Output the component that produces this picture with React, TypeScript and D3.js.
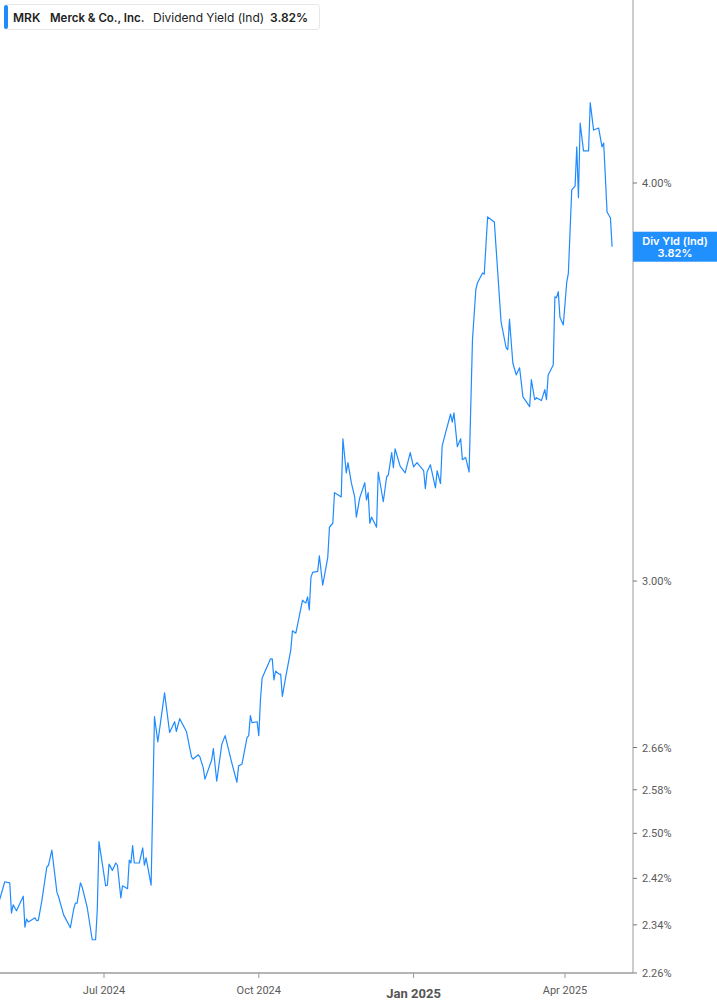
import React from "react";
import * as d3 from "d3";

const dates = [
  "2024-04-30", "2024-05-03", "2024-05-06", "2024-05-07", "2024-05-08", "2024-05-10", "2024-05-14", "2024-05-15",
  "2024-05-16", "2024-05-17", "2024-05-21", "2024-05-22", "2024-05-23", "2024-05-25", "2024-05-28", "2024-05-29",
  "2024-05-31", "2024-06-03", "2024-06-04", "2024-06-07", "2024-06-11", "2024-06-13", "2024-06-14", "2024-06-15",
  "2024-06-17", "2024-06-18", "2024-06-21", "2024-06-24", "2024-06-26", "2024-06-27", "2024-06-28", "2024-07-02",
  "2024-07-03", "2024-07-04", "2024-07-06", "2024-07-08", "2024-07-09", "2024-07-11", "2024-07-12", "2024-07-15",
  "2024-07-16", "2024-07-17", "2024-07-18", "2024-07-19", "2024-07-22", "2024-07-24", "2024-07-25", "2024-07-26",
  "2024-07-29", "2024-07-31", "2024-08-02", "2024-08-06", "2024-08-09", "2024-08-12", "2024-08-13", "2024-08-15",
  "2024-08-19", "2024-08-22", "2024-08-23", "2024-08-26", "2024-08-27", "2024-08-29", "2024-08-30", "2024-09-03",
  "2024-09-04", "2024-09-06", "2024-09-09", "2024-09-11", "2024-09-15", "2024-09-18", "2024-09-19", "2024-09-21",
  "2024-09-24", "2024-09-25", "2024-09-26", "2024-09-27", "2024-09-30", "2024-10-01", "2024-10-02", "2024-10-03",
  "2024-10-08", "2024-10-09", "2024-10-10", "2024-10-11", "2024-10-13", "2024-10-14", "2024-10-15", "2024-10-17",
  "2024-10-20", "2024-10-21", "2024-10-23", "2024-10-24", "2024-10-27", "2024-10-28", "2024-10-29", "2024-10-30",
  "2024-10-31", "2024-11-01", "2024-11-02", "2024-11-05", "2024-11-06", "2024-11-08", "2024-11-11", "2024-11-12",
  "2024-11-14", "2024-11-15", "2024-11-17", "2024-11-19", "2024-11-20", "2024-11-22", "2024-11-23", "2024-11-25",
  "2024-11-27", "2024-11-28", "2024-11-30", "2024-12-03", "2024-12-04", "2024-12-05", "2024-12-06", "2024-12-07",
  "2024-12-10", "2024-12-11", "2024-12-14", "2024-12-16", "2024-12-17", "2024-12-19", "2024-12-20", "2024-12-21",
  "2024-12-24", "2024-12-27", "2024-12-30", "2025-01-01", "2025-01-03", "2025-01-07", "2025-01-08", "2025-01-09",
  "2025-01-11", "2025-01-14", "2025-01-15", "2025-01-17", "2025-01-18", "2025-01-20", "2025-01-23", "2025-01-24",
  "2025-01-25", "2025-01-27", "2025-01-29", "2025-01-30", "2025-02-01", "2025-02-03", "2025-02-05", "2025-02-07",
  "2025-02-08", "2025-02-11", "2025-02-12", "2025-02-14", "2025-02-18", "2025-02-22", "2025-02-25", "2025-02-26",
  "2025-02-27", "2025-03-01", "2025-03-03", "2025-03-05", "2025-03-07", "2025-03-11", "2025-03-12", "2025-03-14",
  "2025-03-15", "2025-03-18", "2025-03-20", "2025-03-21", "2025-03-22", "2025-03-25", "2025-03-26", "2025-03-27",
  "2025-03-28", "2025-03-29", "2025-03-31", "2025-04-02", "2025-04-03", "2025-04-05", "2025-04-07", "2025-04-08",
  "2025-04-09", "2025-04-10", "2025-04-12", "2025-04-15", "2025-04-16", "2025-04-18", "2025-04-21", "2025-04-23",
  "2025-04-24", "2025-04-26", "2025-04-28", "2025-04-29",
];

// dividend yield, %
const yields = [
  2.383, 2.414, 2.412, 2.36, 2.374, 2.364, 2.389, 2.336,
  2.35, 2.345, 2.352, 2.347, 2.348, 2.38, 2.44, 2.443,
  2.47, 2.396, 2.388, 2.357, 2.335, 2.367, 2.377, 2.377,
  2.412, 2.405, 2.37, 2.315, 2.315, 2.365, 2.485, 2.407,
  2.408, 2.445, 2.434, 2.447, 2.443, 2.386, 2.407, 2.402,
  2.452, 2.447, 2.478, 2.447, 2.447, 2.474, 2.443, 2.456,
  2.408, 2.72, 2.671, 2.767, 2.689, 2.71, 2.691, 2.716,
  2.691, 2.642, 2.638, 2.646, 2.642, 2.621, 2.6, 2.636,
  2.658, 2.596, 2.666, 2.683, 2.63, 2.594, 2.625, 2.628,
  2.679, 2.683, 2.722, 2.708, 2.71, 2.683, 2.754, 2.797,
  2.836, 2.836, 2.793, 2.811, 2.805, 2.805, 2.76, 2.799,
  2.854, 2.894, 2.889, 2.906, 2.959, 2.955, 2.953, 2.966,
  2.938, 3.008, 3.019, 3.021, 3.055, 2.991, 3.052, 3.119,
  3.128, 3.198, 3.193, 3.188, 3.325, 3.244, 3.268, 3.221,
  3.188, 3.142, 3.186, 3.221, 3.181, 3.198, 3.128, 3.142,
  3.119, 3.246, 3.177, 3.235, 3.239, 3.292, 3.256, 3.301,
  3.26, 3.244, 3.292, 3.258, 3.268, 3.249, 3.207, 3.246,
  3.263, 3.209, 3.249, 3.219, 3.308, 3.339, 3.385, 3.365,
  3.388, 3.306, 3.325, 3.275, 3.28, 3.246, 3.571, 3.703,
  3.722, 3.748, 3.745, 3.903, 3.889, 3.618, 3.551, 3.546,
  3.625, 3.512, 3.482, 3.5, 3.427, 3.403, 3.47, 3.42,
  3.425, 3.418, 3.445, 3.42, 3.482, 3.507, 3.684, 3.682,
  3.698, 3.63, 3.61, 3.722, 3.748, 3.98, 3.991, 4.106,
  3.958, 4.177, 4.094, 4.094, 4.239, 4.156, 4.162, 4.106,
  4.117, 3.917, 3.9, 3.82,
];

const yTicks = [2.26, 2.34, 2.42, 2.5, 2.58, 2.66, 3.0, 4.0];
const xTickDates = ["2024-07-01", "2024-10-01", "2025-01-01", "2025-04-01"];
const xTickLabels = ["Jul 2024", "Oct 2024", "Jan 2025", "Apr 2025"];

const W = 717;
const H = 1005;
const axisX = 633;
const axisY = 973;
const lineColor = "#1f8bff";
const axisFont = "Roboto, 'Liberation Sans', sans-serif";
const legendFont = "Inter, 'Noto Sans', sans-serif";

const parse = d3.timeParse("%Y-%m-%d");

export default function App() {
  const points = dates.map((d, i) => ({ date: parse(d) as Date, value: yields[i] }));

  const x = d3
    .scaleTime()
    .domain([parse(xTickDates[0]) as Date, parse(xTickDates[3]) as Date])
    .range([104, 565]);

  const y = d3.scaleLog().domain([2.26, 4.0]).range([axisY, 183]);

  const line = d3
    .line<{ date: Date; value: number }>()
    .x((d) => x(d.date))
    .y((d) => y(d.value));

  const last = points[points.length - 1];
  const lastY = y(last.value);

  return (
    <div style={{ position: "absolute", left: 0, top: 0 }}>
      <svg width={W} height={H} style={{ display: "block", background: "#fff" }}>
        <path d={line(points) ?? ""} fill="none" stroke={lineColor} strokeWidth={1.2} strokeLinejoin="round" />

        {/* bottom axis */}
        <line x1={0} x2={axisX} y1={axisY} y2={axisY} stroke="#b4b4b4" strokeWidth={2} />
        {xTickDates.map((d, i) => {
          const px = x(parse(d) as Date);
          const bold = i === 2;
          return (
            <g key={d}>
              <line x1={px} x2={px} y1={axisY} y2={axisY + 5} stroke="#999" strokeWidth={1} />
              <text
                x={px}
                y={bold ? 998 : 994}
                textAnchor="middle"
                fontFamily={axisFont}
                fontSize={bold ? 13 : 11}
                fontWeight={bold ? 700 : 400}
                fill={bold ? "#555" : "#5a5a5a"}
              >
                {xTickLabels[i]}
              </text>
            </g>
          );
        })}

        {/* right axis */}
        <line x1={axisX} x2={axisX} y1={0} y2={axisY} stroke="#9a9a9a" strokeWidth={1} />
        {yTicks.map((t) => (
          <g key={t}>
            <line x1={axisX} x2={axisX + 4} y1={y(t)} y2={y(t)} stroke="#777" strokeWidth={1} />
            <text x={642} y={y(t) + 4} fontFamily={axisFont} fontSize={11} fill="#5a5a5a">
              {t.toFixed(2) + "%"}
            </text>
          </g>
        ))}

        {/* last value label */}
        <rect x={axisX} y={lastY - 15} width={W - axisX} height={30} fill="#2190ff" />
        <text x={675} y={lastY - 2} textAnchor="middle" fontFamily={legendFont} fontSize={11} fontWeight={600} fill="#fff">
          Div Yld (Ind)
        </text>
        <text x={675} y={lastY + 10} textAnchor="middle" fontFamily={legendFont} fontSize={11} fontWeight={600} fill="#fff">
          {last.value.toFixed(2) + "%"}
        </text>

        {/* legend */}
        <rect x={4.5} y={4.5} width={315} height={25} rx={3} fill="#fff" stroke="#e6e6e6" />
        <rect x={4} y={5} width={4} height={24} rx={2} fill={lineColor} />
        <g fontFamily={legendFont} fontSize={12} fill="#222">
          <text x={13} y={21.5} fontWeight={600}>MRK</text>
          <text x={50} y={21.5} fontWeight={600} fontSize={11.5}>Merck &amp; Co., Inc.</text>
          <text x={153} y={21.5} fontWeight={400}>Dividend Yield (Ind)</text>
          <text x={270} y={21.5} fontWeight={600}>{last.value.toFixed(2) + "%"}</text>
        </g>
      </svg>
    </div>
  );
}
